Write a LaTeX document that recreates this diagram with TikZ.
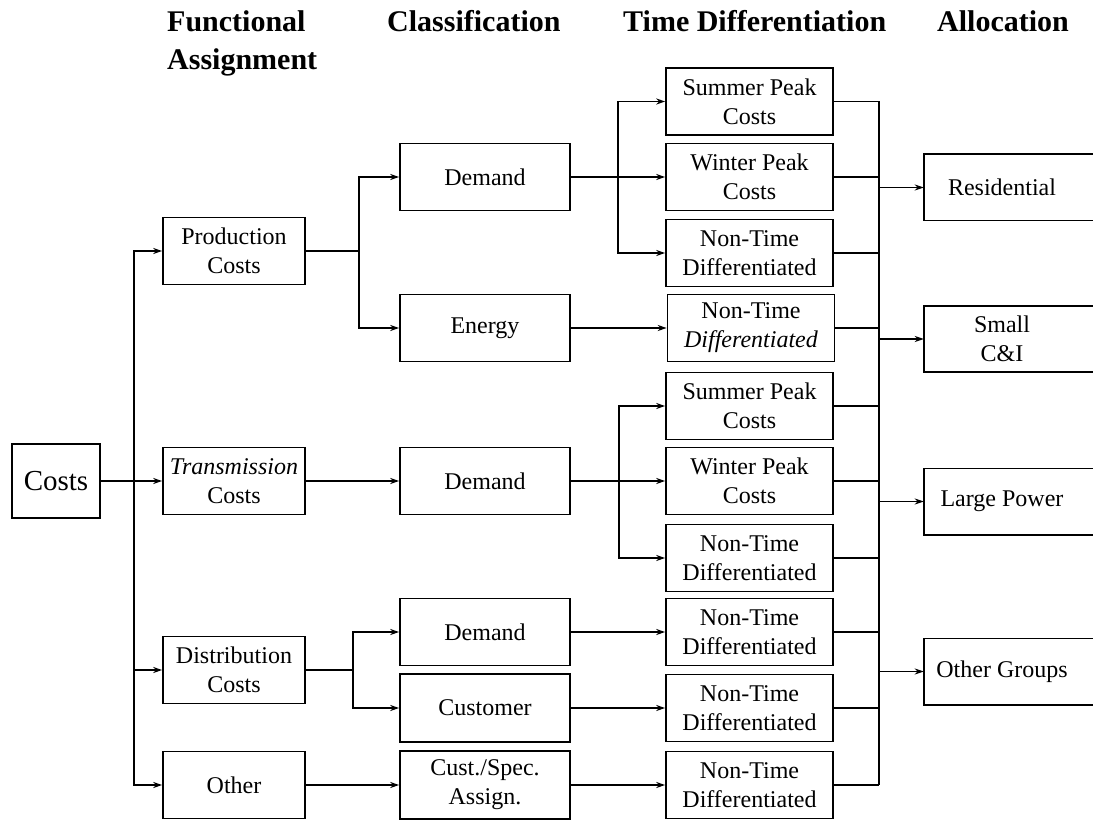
\documentclass[tikz,border=0pt]{standalone}
\usepackage{fontspec}
\setmainfont{Liberation Serif}
\usetikzlibrary{arrows.meta}
\tikzset{
  box/.style={draw, line width=1.6pt, inner sep=0pt, align=center,
    font=\fontsize{24}{29}\selectfont, minimum height=67pt},
  fbox/.style={box, minimum width=142pt},
  cbox/.style={box, minimum width=170pt},
  tbox/.style={box, minimum width=167pt},
  abox/.style={inner sep=0pt, align=center, font=\fontsize{24}{29}\selectfont,
    minimum width=156pt, minimum height=66pt},
  head/.style={inner sep=0pt, anchor=base west, font=\fontsize{30}{37}\selectfont\bfseries},
  conn/.style={line width=1.6pt},
  arr/.style={conn, -{Stealth[length=9pt,width=6pt]}},
}
\begin{document}
\begin{tikzpicture}[x=1pt,y=-1pt]
\clip (0,0) rectangle (1093,821);
% headers
\node[head] (h1) at (167,32) {Functional};
\node[head] (h1b) at (167,70) {Assignment};
\node[head] (h2) at (387,32) {Classification};
\node[head] (h3) at (623,32) {Time Differentiation};
\node[head] (h4) at (937,32) {Allocation};
% root
\node[box, minimum width=88pt, minimum height=74pt, font=\fontsize{29}{34}\selectfont] (costs) at (56,481) {Costs};
% functional
\node[fbox] (prod) at (234,251) {Production\\Costs};
\node[fbox] (trans) at (234,481) {\textit{Transmission}\\Costs};
\node[fbox] (dist) at (234,670) {Distribution\\Costs};
\node[fbox] (other) at (234,785) {Other};
% classification
\node[cbox] (dem1) at (485,177) {Demand};
\node[cbox] (energy) at (485,328) {Energy};
\node[cbox] (dem2) at (485,481) {Demand};
\node[cbox] (dem3) at (485,632) {Demand};
\node[cbox, minimum height=68pt] (cust) at (485,708) {Customer};
\node[cbox, minimum height=68pt] (cspec) at (485,785) {Cust./Spec.\\Assign.};
% time differentiation
\node[tbox] (td1) at (749.5,101.5) {Summer Peak\\Costs};
\node[tbox] (td2) at (749.5,177) {Winter Peak\\Costs};
\node[tbox] (td3) at (749.5,253) {Non-Time\\Differentiated};
\node[tbox] (td4) at (751,328) {Non-Time\\\textit{Differentiated}};
\node[tbox] (td5) at (749.5,406) {Summer Peak\\Costs};
\node[tbox] (td6) at (749.5,481) {Winter Peak\\Costs};
\node[tbox] (td7) at (749.5,558) {Non-Time\\Differentiated};
\node[tbox] (td8) at (749.5,632) {Non-Time\\Differentiated};
\node[tbox] (td9) at (749.5,708) {Non-Time\\Differentiated};
\node[tbox] (td10) at (749.5,785) {Non-Time\\Differentiated};
% allocation
\node[abox] (res) at (1002,187.5) {Residential};
\node[abox] (small) at (1002,339) {Small\\C\&I};
\node[abox] (large) at (1002,501.5) {Large Power};
\node[abox] (othg) at (1002,671.5) {Other Groups};
\foreach \n in {res,small,large,othg}{
  \draw[line width=1.6pt] ([xshift=40pt]\n.north east) -- (\n.north west) -- (\n.south west) -- ([xshift=40pt]\n.south east);
}
% connectors: root to functional
\draw[arr] (costs.east) -- (trans.west);
\draw[arr] (costs.east) -- ++(33,0) |- (prod.west);
\draw[arr] (costs.east) -- ++(33,0) |- (dist.west);
\draw[arr] (costs.east) -- ++(33,0) |- (other.west);
% functional to classification
\draw[arr] (prod.east) -- ++(53,0) |- (dem1.west);
\draw[arr] (prod.east) -- ++(53,0) |- (energy.west);
\draw[arr] (trans.east) -- (dem2.west);
\draw[arr] (dist.east) -- ++(47,0) |- (dem3.west);
\draw[arr] (dist.east) -- ++(47,0) |- (cust.west);
\draw[arr] (other.east) -- (cspec.west);
% classification to time differentiation
\draw[arr] (dem1.east) -- ++(47,0) |- (td1.west);
\draw[arr] (dem1.east) -- (td2.west);
\draw[arr] (dem1.east) -- ++(47,0) |- (td3.west);
\draw[arr] (energy.east) -- (td4.west);
\draw[arr] (dem2.east) -- ++(48,0) |- (td5.west);
\draw[arr] (dem2.east) -- (td6.west);
\draw[arr] (dem2.east) -- ++(48,0) |- (td7.west);
\draw[arr] (dem3.east) -- (td8.west);
\draw[arr] (cust.east) -- (td9.west);
\draw[arr] (cspec.east) -- (td10.west);
% collector bus
\coordinate (busTop) at (879,101.5);
\coordinate (busBot) at (879,785);
\draw[conn] (busTop) -- (busBot);
\foreach \n in {td1,td2,td3,td4,td5,td6,td7,td8,td9,td10}{
  \draw[conn] (\n.east) -- (\n.east -| busTop);
}
\draw[arr] (res.west -| busTop) -- (res.west);
\draw[arr] (small.west -| busTop) -- (small.west);
\draw[arr] (large.west -| busTop) -- (large.west);
\draw[arr] (othg.west -| busTop) -- (othg.west);
\end{tikzpicture}
\end{document}
